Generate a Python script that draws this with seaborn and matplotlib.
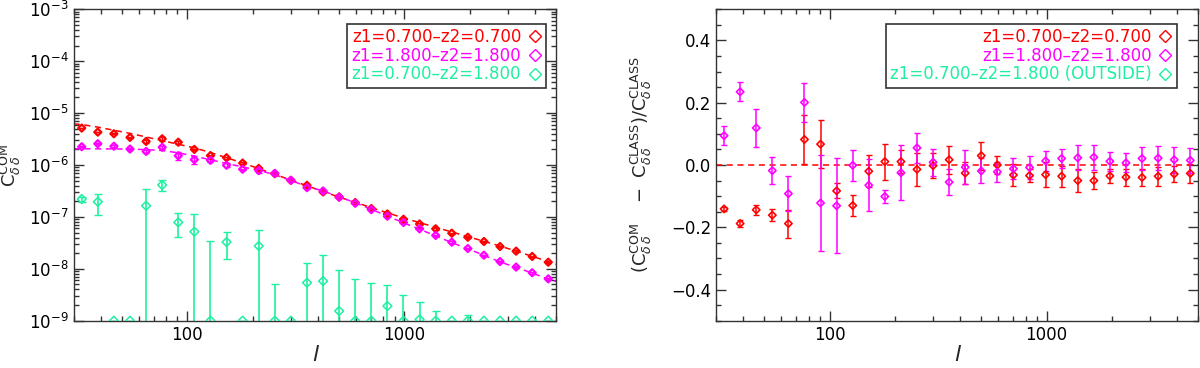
import numpy as np
import matplotlib
matplotlib.use("Agg")
import matplotlib.pyplot as plt
import matplotlib.ticker as mticker
from matplotlib.lines import Line2D
import seaborn as sns

sns.set_theme(style="ticks")
plt.rcParams['font.family'] = ['DejaVu Sans']
plt.rcParams['mathtext.fontset'] = 'dejavusans'

# multipoles (log bins 30 -> 5000)
ell = [32.67, 38.74, 45.95, 54.51, 64.64, 76.66, 90.90, 107.8, 127.9, 151.6,
       179.8, 213.3, 252.9, 299.9, 355.7, 421.8, 500.2, 593.2, 703.5, 834.3,
       989.5, 1173, 1392, 1651, 1957, 2321, 2753, 3265, 3872, 4592]

# measured C_ll
cl_red = [5.15e-6, 4.3e-6, 4.0e-6, 3.4e-6, 2.85e-6, 3.2e-6, 2.75e-6, 2.0e-6, 1.52e-6, 1.38e-6,
          1.09e-6, 8.6e-7, 6.8e-7, 5.07e-7, 4.07e-7, 3.03e-7, 2.43e-7, 1.89e-7, 1.45e-7, 1.14e-7,
          9.0e-8, 7.3e-8, 5.9e-8, 4.85e-8, 4.06e-8, 3.36e-8, 2.69e-8, 2.19e-8, 1.73e-8, 1.34e-8]
cl_mag = [2.25e-6, 2.57e-6, 2.3e-6, 2.03e-6, 1.83e-6, 2.2e-6, 1.51e-6, 1.27e-6, 1.23e-6, 9.9e-7,
          8.3e-7, 7.8e-7, 6.9e-7, 5.07e-7, 3.66e-7, 3.16e-7, 2.39e-7, 1.83e-7, 1.38e-7, 1.03e-7,
          7.8e-8, 5.9e-8, 4.4e-8, 3.26e-8, 2.46e-8, 1.83e-8, 1.38e-8, 1.08e-8, 8.4e-9, 6.4e-9]
cl_grn = [2.21e-7, 1.96e-7, 1e-9, 1e-9, 1.64e-7, 4.12e-7, 7.87e-8, 5.19e-8, 1e-9, 3.28e-8,
          1e-9, 2.75e-8, 1e-9, 1e-9, 5.4e-9, 5.8e-9, 1.54e-9, 1e-9, 1e-9, 1.92e-9,
          1e-9, 1.06e-9, 1e-9, 1e-9, 1e-9, 1e-9, 1e-9, 1e-9, 1e-9, 1e-9]
err_grn = [2.5e-8, 8.6e-8, 0, 0, 1.76e-7, 9.5e-8, 3.8e-8, 6.2e-8, 3.29e-8, 1.75e-8,
           0, 2.85e-8, 4.0e-9, 0, 7.4e-9, 1.24e-8, 8.0e-9, 5.35e-9, 4.25e-9, 3.0e-9,
           2.08e-9, 1.24e-9, 5.6e-10, 0, 2.7e-10, 0, 0, 0, 0, 0]

# CLASS theory at the bins, plus values at the plot edges (l=30, l=5000)
th_red = [6.03e-6, 5.37e-6, 4.68e-6, 4.07e-6, 3.47e-6, 2.95e-6, 2.51e-6, 2.14e-6, 1.74e-6, 1.38e-6,
          1.10e-6, 8.51e-7, 6.61e-7, 5.13e-7, 3.98e-7, 3.09e-7, 2.40e-7, 1.91e-7, 1.51e-7, 1.20e-7,
          9.55e-8, 7.76e-8, 6.31e-8, 5.13e-8, 4.17e-8, 3.39e-8, 2.75e-8, 2.19e-8, 1.74e-8, 1.38e-8]
th_mag = [2.05e-6, 2.05e-6, 2.04e-6, 2.02e-6, 1.98e-6, 1.90e-6, 1.72e-6, 1.48e-6, 1.26e-6, 1.07e-6,
          9.2e-7, 7.9e-7, 6.5e-7, 5.0e-7, 3.9e-7, 3.15e-7, 2.45e-7, 1.87e-7, 1.40e-7, 1.04e-7,
          7.7e-8, 5.8e-8, 4.3e-8, 3.2e-8, 2.43e-8, 1.82e-8, 1.36e-8, 1.06e-8, 8.3e-9, 6.3e-9]
th_edge_ell = [30.0, 5000.0]
th_red_edge = [6.2e-6, 1.22e-8]
th_mag_edge = [2.05e-6, 5.7e-9]

# relative difference (C_COM - C_CLASS)/C_CLASS and its error
ratio_red = [-0.141, -0.188, -0.144, -0.161, -0.188, 0.082, 0.067, -0.083, -0.130, -0.020,
             0.011, 0.011, -0.014, -0.002, 0.017, -0.026, 0.030, 0.000, -0.032, -0.034,
             -0.031, -0.036, -0.050, -0.050, -0.035, -0.039, -0.040, -0.036, -0.029, -0.027]
ratio_mag = [0.094, 0.235, 0.119, -0.018, -0.092, 0.201, -0.122, -0.131, -0.001, -0.065,
             -0.101, -0.025, 0.055, 0.009, -0.055, -0.007, -0.019, -0.022, -0.012, -0.008,
             0.013, 0.021, 0.023, 0.025, 0.012, 0.007, 0.021, 0.022, 0.017, 0.015]
err_red = [0.006, 0.011, 0.017, 0.02, 0.045, 0.08, 0.078, 0.024, 0.035, 0.052,
           0.058, 0.038, 0.053, 0.04, 0.045, 0.035, 0.045, 0.028, 0.036, 0.02,
           0.041, 0.034, 0.036, 0.028, 0.023, 0.027, 0.027, 0.03, 0.025, 0.03]
err_mag = [0.03, 0.03, 0.06, 0.044, 0.057, 0.063, 0.155, 0.152, 0.05, 0.083,
           0.021, 0.088, 0.048, 0.044, 0.042, 0.055, 0.04, 0.032, 0.033, 0.037,
           0.033, 0.03, 0.04, 0.04, 0.03, 0.03, 0.036, 0.038, 0.042, 0.04]

labels_left = ["z1=0.700\u2013z2=0.700", "z1=1.800\u2013z2=1.800", "z1=0.700\u2013z2=1.800"]
labels_right = ["z1=0.700\u2013z2=0.700", "z1=1.800\u2013z2=1.800",
                "z1=0.700\u2013z2=1.800 (OUTSIDE)"]
RED, MAG, GRN = "#ff0000", "#ff00ff", "#1ef0a0"

fig = plt.figure(figsize=(12, 3.68), dpi=100)
ax1 = fig.add_axes([0.0614, 0.1285, 0.4022, 0.8462])
ax2 = fig.add_axes([0.5967, 0.1285, 0.4019, 0.8462])

# ---- left panel: C_ll
for th, edge, col in [(th_red, th_red_edge, RED), (th_mag, th_mag_edge, MAG)]:
    xs = [th_edge_ell[0]] + ell + [th_edge_ell[1]]
    ys = [edge[0]] + th + [edge[1]]
    sns.lineplot(x=xs, y=ys, ax=ax1, color=col, lw=1.1, linestyle=(0, (4, 3)),
                 estimator=None, sort=False)

for cl, th, er, col in [(cl_red, th_red, err_red, RED), (cl_mag, th_mag, err_mag, MAG)]:
    yerr = np.array(th) * np.array(er)
    ax1.errorbar(ell, cl, yerr=yerr, fmt='none', ecolor=col, elinewidth=1.0, capsize=2.5)
    sns.scatterplot(x=ell, y=cl, ax=ax1, marker='D', s=13, facecolor='none',
                    edgecolor=col, linewidth=1.6, zorder=3)

g = np.array(cl_grn)
ge = np.array(err_grn)
lo = np.minimum(ge, g - 1e-12)
ax1.errorbar(ell, cl_grn, yerr=[lo, ge], fmt='none', ecolor=GRN, elinewidth=1.2, capsize=3)
sns.scatterplot(x=ell, y=cl_grn, ax=ax1, marker='D', s=20, facecolor='none',
                edgecolor=GRN, linewidth=1.1, zorder=3, clip_on=True)

ax1.set_xscale('log')
ax1.set_yscale('log')
ax1.set_xlim(30, 5000)
ax1.set_ylim(1e-9, 1e-3)
ax1.yaxis.set_major_locator(mticker.LogLocator(base=10, numticks=10))
ax1.yaxis.set_minor_locator(mticker.LogLocator(base=10, subs=np.arange(2, 10), numticks=20))
ax1.yaxis.set_minor_formatter(mticker.NullFormatter())
ax1.set_ylabel(r'$\mathrm{C}^{\mathrm{COM}}_{\delta\,\delta}$', fontsize=13, labelpad=4)

# ---- right panel: relative difference
ax2.axhline(0, color=RED, lw=1.1, linestyle=(0, (4, 3)))
ax2.errorbar(ell, ratio_red, yerr=err_red, fmt='none', ecolor=RED, elinewidth=1.1, capsize=2.5)
ax2.errorbar(ell, ratio_mag, yerr=err_mag, fmt='none', ecolor=MAG, elinewidth=1.1, capsize=2.5)
sns.scatterplot(x=ell, y=ratio_red, ax=ax2, marker='D', s=14, facecolor='none',
                edgecolor=RED, linewidth=1.2, zorder=3)
sns.scatterplot(x=ell, y=ratio_mag, ax=ax2, marker='D', s=14, facecolor='none',
                edgecolor=MAG, linewidth=1.2, zorder=3)
ax2.set_xscale('log')
ax2.set_xlim(30, 5000)
ax2.set_ylim(-0.5, 0.5)
ax2.yaxis.set_major_locator(mticker.MultipleLocator(0.2))
ax2.yaxis.set_minor_locator(mticker.MultipleLocator(0.05))
ax2.yaxis.set_major_formatter(mticker.FuncFormatter(lambda v, p: f"{v:.1f}".replace('-', '\u2212')))
ax2.set_ylabel(r'$(\mathrm{C}^{\mathrm{COM}}_{\delta\,\delta}\ \ \ -\ \mathrm{C}^{\mathrm{CLASS}}_{\delta\,\delta})/\mathrm{C}^{\mathrm{CLASS}}_{\delta\,\delta}$',
               fontsize=13, labelpad=12)

for ax in (ax1, ax2):
    ax.xaxis.set_major_locator(mticker.FixedLocator([100, 1000]))
    ax.xaxis.set_major_formatter(mticker.FixedFormatter(["100", "1000"]))
    ax.xaxis.set_minor_locator(mticker.LogLocator(base=10, subs=np.arange(2, 10), numticks=20))
    ax.xaxis.set_minor_formatter(mticker.NullFormatter())
    ax.tick_params(which='both', direction='in', top=True, right=True, colors='#333333',
                   labelcolor='black', labelsize=12, width=1)
    ax.tick_params(which='major', length=7)
    ax.tick_params(which='minor', length=3.5)
    for s in ax.spines.values():
        s.set_color('#333333')
        s.set_linewidth(1)
    ax.set_xlabel('l', fontsize=16, style='italic', labelpad=1)
    ax.grid(False)

def legend(ax, labels, anchor):
    handles = [Line2D([], [], ls='none', marker='D', ms=6, mfc='none', mew=1.0, color=c)
               for c in (RED, MAG, GRN)]
    leg = ax.legend(handles, labels, loc='upper right', bbox_to_anchor=anchor,
                    borderaxespad=0, markerfirst=False, labelcolor=[RED, MAG, GRN],
                    fontsize=12, frameon=True, fancybox=False, framealpha=1,
                    edgecolor='#333333', borderpad=0.25, labelspacing=0.05,
                    handlelength=0.9, handletextpad=0.35)
    leg.get_frame().set_linewidth(1.2)

legend(ax1, labels_left, (0.979, 0.954))
legend(ax2, labels_right, (0.956, 0.954))

fig.savefig("out.png", dpi=100)
